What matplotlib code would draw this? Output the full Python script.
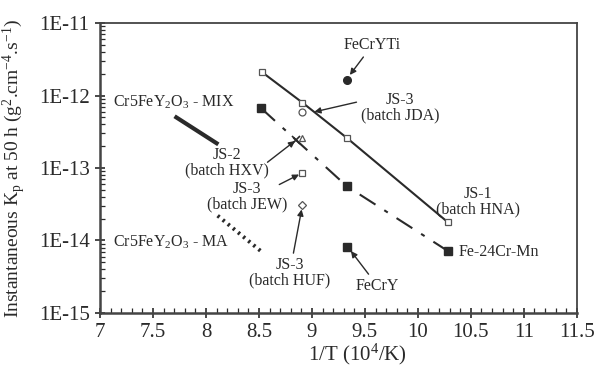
import numpy as np
import matplotlib.pyplot as plt
from matplotlib.ticker import MultipleLocator, LogLocator, NullFormatter

plt.rcParams['font.family'] = ['Liberation Serif', 'DejaVu Serif']
plt.rcParams['mathtext.fontset'] = 'custom'
plt.rcParams['mathtext.rm'] = 'Liberation Serif'
plt.rcParams['mathtext.it'] = 'Liberation Serif'

ink = '#2a2a2a'

# data
js1_x = [8.53, 8.91, 9.33, 10.28]
js1_y = [2.1e-12, 8.0e-13, 2.6e-13, 1.8e-14]
mn_x = [8.52, 9.33, 10.28]
mn_y = [6.7e-13, 5.6e-14, 7.2e-15]
ti_x, ti_y = [9.33], [1.64e-12]
fecry_x, fecry_y = [9.33], [8.1e-15]
jda_x, jda_y = [8.91], [5.9e-13]
hxv_x, hxv_y = [8.91], [2.6e-13]
hxv2_x, hxv2_y = [8.85], [2.45e-13]
jew_x, jew_y = [8.91], [8.5e-14]
huf_x, huf_y = [8.91], [3.1e-14]
mix_x = [7.72, 8.10]
mix_y = [5.0e-13, 2.2e-13]
ma_x = [8.11, 8.53]
ma_y = [2.2e-14, 6.9e-15]

xticks = [7, 7.5, 8, 8.5, 9, 9.5, 10, 10.5, 11, 11.5]
xtick_labels = ['7', '7.5', '8', '8.5', '9', '9.5', '10', '10.5', '11', '11.5']
yticks = [1e-15, 1e-14, 1e-13, 1e-12, 1e-11]
ytick_labels = ['1E-15', '1E-14', '1E-13', '1E-12', '1E-11']

fig = plt.figure(figsize=(5.99, 3.73), dpi=100)
ax = fig.add_axes([0.167, 0.161, 0.796, 0.777])

ax.plot(js1_x, js1_y, '-', color=ink, lw=1.5, marker='s', ms=5,
        mfc='white', mec='#555555', mew=0.9)
ax.plot(mn_x, mn_y, color=ink, lw=1.5, dashes=(9, 5, 2, 5), marker='s',
        ms=5.5, mfc=ink, mec=ink)
ax.plot(ti_x, ti_y, 'o', color=ink, ms=5.5)
ax.plot(fecry_x, fecry_y, 's', color=ink, ms=5.5)
ax.plot(jda_x, jda_y, 'o', ms=5, mfc='white', mec='#555555', mew=0.9)
ax.plot(hxv_x, hxv_y, '^', ms=5, mfc='white', mec='#555555', mew=0.9)
ax.plot(hxv2_x, hxv2_y, 'x', ms=6, mec=ink, mew=1.2)
ax.plot(jew_x, jew_y, 's', ms=5, mfc='white', mec='#555555', mew=0.9)
ax.plot(huf_x, huf_y, 'D', ms=4, mfc='white', mec='#555555', mew=0.9)
ax.plot(mix_x, mix_y, '-', color=ink, lw=3)
ax.plot(ma_x, ma_y, color=ink, lw=2.8, dashes=(0.6, 1.1))

ax.set_yscale('log')
ax.set_xlim(7, 11.5)
ax.set_ylim(1e-15, 1e-11)

ax.set_xticks(xticks)
ax.set_xticklabels(xtick_labels)
ax.xaxis.set_minor_locator(MultipleLocator(0.1))
ax.set_yticks(yticks)
ax.set_yticklabels(ytick_labels)
ax.yaxis.set_minor_locator(LogLocator(base=10, subs=np.arange(2, 10)))
ax.yaxis.set_minor_formatter(NullFormatter())

ax.tick_params(which='major', direction='inout', length=7, width=1.2,
               colors=ink, labelsize=15, pad=4)
ax.tick_params(which='minor', direction='in', length=3.5, width=0.9, colors=ink)
ax.tick_params(top=False, right=False, which='both')
for s in ax.spines.values():
    s.set_color('#444444')
    s.set_linewidth(1.3)
ax.spines['left'].set_linewidth(1.8)
ax.spines['bottom'].set_linewidth(1.8)

ax.set_xlabel('1/T (10$^4$/K)', fontsize=15, color=ink)
ax.xaxis.set_label_coords(0.54, -0.1)
ax.set_ylabel('Instantaneous K$_\\mathrm{p}$ at 50 h (g$^2$.cm$^{-4}$.s$^{-1}$)',
              fontsize=14, color=ink)
ax.yaxis.set_label_coords(-0.152, 0.5)

arrow = dict(arrowstyle='-|>', color=ink, lw=1.0, mutation_scale=9,
             shrinkA=1, shrinkB=1)
fs = 11.5

ax.annotate('FeCrYTi', xy=(9.35, 1.86e-12), xytext=(9.57, 4.97e-12),
            ha='center', va='center', fontsize=fs, color=ink, arrowprops=arrow)
ax.annotate('JS-3\n(batch JDA)', xy=(9.01, 5.9e-13), xytext=(9.83, 6.9e-13),
            ha='center', va='center', fontsize=fs, color=ink, linespacing=0.95,
            arrowprops=dict(arrow, relpos=(0.1, 0.75)))
ax.text(8.20, 1.17e-13, 'JS-2\n(batch HXV)', ha='center', va='center',
        fontsize=fs, color=ink, linespacing=0.95)
ax.annotate('', xy=(8.85, 2.43e-13), xytext=(8.57, 1.17e-13), arrowprops=arrow)
ax.text(8.39, 3.98e-14, 'JS-3\n(batch JEW)', ha='center', va='center',
        fontsize=fs, color=ink, linespacing=0.95)
ax.annotate('', xy=(8.89, 8.3e-14), xytext=(8.68, 5.8e-14), arrowprops=arrow)
ax.annotate('JS-3\n(batch HUF)', xy=(8.905, 2.8e-14), xytext=(8.79, 3.56e-15),
            ha='center', va='center', fontsize=fs, color=ink, linespacing=0.95,
            arrowprops=arrow)
ax.annotate('FeCrY', xy=(9.36, 7.4e-15), xytext=(9.62, 2.35e-15),
            ha='center', va='center', fontsize=fs, color=ink, arrowprops=arrow)
ax.text(10.57, 3.4e-14, 'JS-1\n(batch HNA)', ha='center', va='center',
        fontsize=fs, color=ink, linespacing=0.95)
ax.text(10.38, 6.9e-15, 'Fe-24Cr-Mn', ha='left', va='center', fontsize=fs,
        color=ink)
ax.text(7.70, 8.1e-13, 'Cr5FeY$_2$O$_3$ - MIX', ha='center', va='center',
        fontsize=fs, color=ink)
ax.text(7.67, 9.3e-15, 'Cr5FeY$_2$O$_3$ - MA', ha='center', va='center',
        fontsize=fs, color=ink)

fig.savefig('out.png', dpi=100)
